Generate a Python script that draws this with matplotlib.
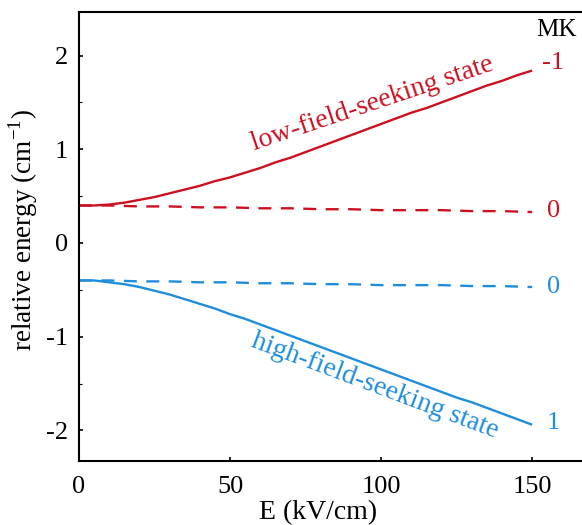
import matplotlib
matplotlib.use("Agg")
import matplotlib.pyplot as plt
from matplotlib.ticker import MultipleLocator

# Field strength (kV/cm)
field = [0, 5, 10, 15, 20, 25, 30, 35, 40, 45, 50, 55, 60, 65, 70, 75, 80,
         85, 90, 95, 100, 105, 110, 115, 120, 125, 130, 135, 140, 145, 150]

# Relative energies (cm^-1)
lfs_mk_m1 = [0.40, 0.40, 0.41, 0.43, 0.46, 0.49, 0.53, 0.57, 0.61, 0.66,
             0.70, 0.75, 0.80, 0.86, 0.91, 0.97, 1.03, 1.09, 1.15, 1.21,
             1.27, 1.33, 1.39, 1.44, 1.50, 1.56, 1.62, 1.68, 1.73, 1.79, 1.84]
hfs_mk_1 = [-0.40, -0.40, -0.42, -0.44, -0.47, -0.51, -0.55, -0.60, -0.65,
            -0.70, -0.76, -0.81, -0.87, -0.93, -0.99, -1.05, -1.11, -1.17,
            -1.23, -1.29, -1.35, -1.41, -1.47, -1.53, -1.59, -1.65, -1.70,
            -1.76, -1.82, -1.88, -1.94]

field_k0 = [0, 10, 20, 30, 40, 50, 60, 70, 80, 90, 100, 110, 120, 130, 140, 150]
upper_mk_0 = [0.40, 0.40, 0.39, 0.39, 0.38, 0.38, 0.37, 0.37, 0.36, 0.36,
              0.35, 0.35, 0.35, 0.34, 0.34, 0.33]
lower_mk_0 = [-0.40, -0.40, -0.41, -0.41, -0.42, -0.42, -0.43, -0.43, -0.44,
              -0.44, -0.45, -0.45, -0.45, -0.46, -0.46, -0.47]

mk_labels = ["-1", "0", "0", "1"]
x_ticks = [0, 50, 100, 150]
y_ticks = [-2, -1, 0, 1, 2]

RED = "#cc1020"
BLUE = "#1f8ddc"

plt.rcParams["font.family"] = ["Liberation Serif", "DejaVu Serif"]
plt.rcParams["mathtext.fontset"] = "custom"
plt.rcParams["mathtext.rm"] = "Liberation Serif"
plt.rcParams["axes.unicode_minus"] = False

fig = plt.figure(figsize=(5.82, 5.25), dpi=100)
ax = fig.add_axes([79 / 582, 1 - 461 / 525, 1 - 79 / 582, (461 - 12) / 525])

lw = 1.7
ax.plot(field, lfs_mk_m1, color=RED, lw=lw, solid_capstyle="butt")
ax.plot(field_k0, upper_mk_0, color=RED, lw=lw, dashes=(5.5, 4))
ax.plot(field_k0, lower_mk_0, color=BLUE, lw=lw, dashes=(5.5, 4))
ax.plot(field, hfs_mk_1, color=BLUE, lw=lw, solid_capstyle="butt")

ax.set_xlim(0, 166.5)
ax.set_ylim(-2.327, 2.465)
ax.set_xticks(x_ticks)
ax.set_yticks(y_ticks)
ax.yaxis.set_minor_locator(MultipleLocator(0.5))
ax.tick_params(axis="both", which="major", direction="in", length=3,
               width=1.2, labelsize=19)
ax.tick_params(axis="y", which="minor", direction="in", length=2, width=0.8)
ax.tick_params(axis="y", pad=8)
ax.tick_params(axis="x", pad=11)
ax.spines["right"].set_visible(False)
for s in ("left", "bottom", "top"):
    ax.spines[s].set_linewidth(1.5)

ax.set_xlabel("E (kV/cm)", fontsize=20)
ax.xaxis.set_label_coords(0.475, -0.088)
ax.set_ylabel("relative energy (cm$^{-1}$)", fontsize=19.5)
ax.yaxis.set_label_coords(-0.078, 0.515)

# State labels along the curves
ax.text(97, 1.48, "low-field-seeking state", color=RED, fontsize=20,
        rotation=18.5, ha="center", va="center", rotation_mode="anchor")
ax.text(98, -1.53, "high-field-seeking state", color=BLUE, fontsize=20,
        rotation=-20.5, ha="center", va="center", rotation_mode="anchor")

# MK quantum numbers at the right end
ax.text(158, 2.27, "MK", color="black", fontsize=18, ha="center", va="center")
ends = [lfs_mk_m1[-1], upper_mk_0[-1], lower_mk_0[-1], hfs_mk_1[-1]]
offsets = [0.08, 0.01, 0.0, 0.02]
colors = [RED, RED, BLUE, BLUE]
for lab, yv, dy, c in zip(mk_labels, ends, offsets, colors):
    ax.text(157, yv + dy, lab, color=c, fontsize=19, ha="center", va="center")

fig.savefig("out.png", dpi=100)
